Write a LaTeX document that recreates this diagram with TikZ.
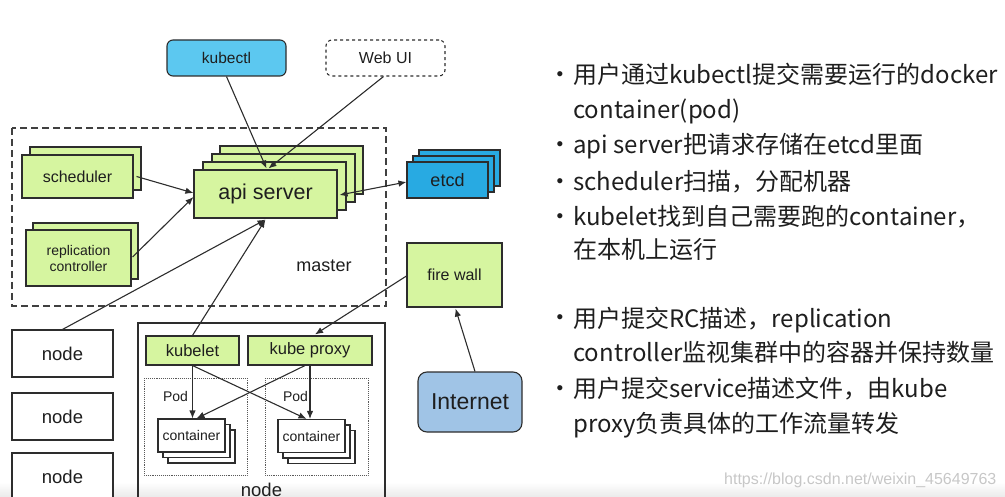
\documentclass[tikz,border=0pt]{standalone}
\usepackage{fontspec}
\setmainfont{Liberation Sans}
\newfontfamily\cjk{Noto Sans CJK SC}
\usetikzlibrary{arrows.meta,shadows,calc}
\definecolor{kgreen}{RGB}{214,245,160}
\definecolor{kcyan}{RGB}{92,200,240}
\definecolor{kblue}{RGB}{40,170,226}
\definecolor{knet}{RGB}{160,196,230}
\definecolor{kline}{RGB}{45,45,45}
\definecolor{ktext}{RGB}{30,30,30}
\begin{document}
\begin{tikzpicture}[x=1pt,y=-1pt,
  box/.style={draw=kline, line width=1.1pt, inner sep=0pt, align=center, text=ktext},
  gbox/.style={box, fill=kgreen},
  arr/.style={draw=kline, line width=1.1pt, -{Latex[length=8pt,width=6.5pt]}},
  barr/.style={draw=kline, line width=1.1pt, {Latex[length=8pt,width=6.5pt]}-{Latex[length=8pt,width=6.5pt]}},
  podbox/.style={draw=black!65, line width=0.9pt, densely dotted},
  lbl/.style={inner sep=0pt, text=ktext},
  txt/.style={anchor=base west, inner sep=0pt, text=ktext, font=\cjk\fontsize{24}{24}\selectfont},
  bul/.style={anchor=base, inner sep=0pt, text=ktext, font=\fontsize{19}{19}\selectfont}
]
\useasboundingbox (0,0) rectangle (1005,497);
\shade[top color=white, bottom color=black!8] (0,482) rectangle (1005,497);

% top clients
\node[box, fill=kcyan, rounded corners=6pt, minimum width=119pt, minimum height=36pt, font=\fontsize{15.5}{16}\selectfont] (kubectl) at (226.5,58) {kubectl};
\node[box, dashed, rounded corners=6pt, minimum width=119pt, minimum height=36pt, font=\fontsize{16}{16}\selectfont] (webui) at (385.5,58) {Web UI};

% master
\draw[draw=black!75, line width=1.1pt, dash pattern=on 7pt off 4pt] (12,128) rectangle (386,306);
\node[lbl, font=\fontsize{18}{18}\selectfont] (master) at (324,266) {master};

\node[gbox, minimum width=111pt, minimum height=43pt, font=\fontsize{16}{16}\selectfont,
  copy shadow={shadow xshift=8pt, shadow yshift=8pt}] (sched) at (77.5,176.5) {scheduler};
\node[gbox, minimum width=105pt, minimum height=56pt, font=\fontsize{14}{16}\selectfont,
  copy shadow={shadow xshift=7pt, shadow yshift=7pt}] (repl) at (78.5,258) {replication\\controller};
\node[gbox, minimum width=143pt, minimum height=48pt, font=\fontsize{21.5}{22}\selectfont,
  copy shadow={shadow xshift=26pt, shadow yshift=24pt},
  copy shadow={shadow xshift=18pt, shadow yshift=16pt},
  copy shadow={shadow xshift=9pt, shadow yshift=8pt}] (api) at (265.5,194) {api server};
\node[box, fill=kblue, minimum width=81pt, minimum height=36pt, font=\fontsize{18}{18}\selectfont,
  copy shadow={shadow xshift=12pt, shadow yshift=12pt},
  copy shadow={shadow xshift=6pt, shadow yshift=6pt}] (etcd) at (447.5,180) {etcd};

\node[gbox, minimum width=95pt, minimum height=64pt, font=\fontsize{16}{16}\selectfont] (fw) at (454.5,275) {fire wall};
\node[box, fill=knet, rounded corners=9pt, minimum width=104pt, minimum height=60pt, font=\fontsize{23}{23}\selectfont] (net) at (470,402) {Internet};

% nodes
\node[box, fill=white, minimum width=101pt, minimum height=47pt, font=\fontsize{18.5}{18}\selectfont] (n1) at (62.5,353.5) {node};
\node[box, fill=white, minimum width=101pt, minimum height=47pt, font=\fontsize{18.5}{18}\selectfont] (n2) at (62.5,416.5) {node};
\node[box, fill=white, minimum width=101pt, minimum height=47pt, font=\fontsize{18.5}{18}\selectfont] (n3) at (62.5,476.5) {node};

\draw[draw=kline, line width=1.1pt] (138,510) -- (138,323) -- (385,323) -- (385,510);
\node[lbl, font=\fontsize{18.5}{18}\selectfont] (bignode) at (261.5,490) {node};

\node[gbox, minimum width=93pt, minimum height=29pt, font=\fontsize{16.5}{16}\selectfont] (kubelet) at (192.5,350.5) {kubelet};
\node[gbox, minimum width=124pt, minimum height=29pt, font=\fontsize{16.5}{16}\selectfont] (proxy) at (310,350.5) {kube proxy};

\draw[podbox] (144,378) rectangle (247,475);
\draw[podbox] (265,378) rectangle (368,475);
\node[lbl, font=\fontsize{14}{14}\selectfont] (pod1) at (175.5,396) {Pod};
\node[lbl, font=\fontsize{14}{14}\selectfont] (pod2) at (295.5,396) {Pod};

\node[box, fill=white, minimum width=67pt, minimum height=33pt, font=\fontsize{14}{14}\selectfont,
  copy shadow={shadow xshift=10pt, shadow yshift=-11pt},
  copy shadow={shadow xshift=5pt, shadow yshift=-5.5pt}] (c1) at (191.5,435.5) {container};
\node[box, fill=white, minimum width=67pt, minimum height=33pt, font=\fontsize{14}{14}\selectfont,
  copy shadow={shadow xshift=10pt, shadow yshift=-11pt},
  copy shadow={shadow xshift=5pt, shadow yshift=-5.5pt}] (c2) at (311.5,436) {container};

% connectors
\draw[arr] (kubectl.south) -- ($(api.north)+(1,-1)$);
\draw[arr] ($(webui.south)+(-2,0)$) -- ($(api.north)+(3,-1)$);
\draw[arr] ($(sched.east)+(3,0)$) -- ($(api.west)+(0,-1)$);
\draw[arr] ($(repl.east)+(1,-1)$) -- ($(api.west)+(0,3)$);
\draw[barr] ($(api.east)+(2,1)$) -- ($(etcd.west)+(0,2)$);
\draw[arr] (n1.north) -- ($(api.south)+(0,1)$);
\draw[arr] (kubelet.north) -- ($(api.south)+(0,1)$);
\draw[arr] ($(fw.west)+(0,1)$) -- ($(proxy.north)+(5,-1)$);
\draw[arr] ($(net.north)+(5,0)$) -- ($(fw.south)+(1,1)$);
\draw[arr] (kubelet.south) -- (kubelet.south |- c1.north);
\draw[arr] (kubelet.south) -- ($(c2.north)+(-5,0)$);
\draw[arr] (proxy.south) -- (proxy.south |- c2.north);
\draw[arr] ($(proxy.south)+(-5,0)$) -- ($(c1.north)+(5,0)$);

% right text
\node[bul] (b1) at (560,81) {•};
\node[txt] (t1) at (573,84) {用户通过kubectl提交需要运行的docker};
\node[txt] (t2) at (573,119) {container(pod)};
\node[bul] (b3) at (560,151) {•};
\node[txt] (t3) at (573,154) {api server把请求存储在etcd里面};
\node[bul] (b4) at (560,188) {•};
\node[txt] (t4) at (573,191) {scheduler扫描，分配机器};
\node[bul] (b5) at (560,223) {•};
\node[txt] (t5) at (573,226) {kubelet找到自己需要跑的container，};
\node[txt] (t6) at (573,259) {在本机上运行};
\node[bul] (b7) at (560,324) {•};
\node[txt] (t7) at (573,327) {用户提交RC描述，replication};
\node[txt] (t8) at (573,362) {controller监视集群中的容器并保持数量};
\node[bul] (b9) at (560,394) {•};
\node[txt] (t9) at (573,397) {用户提交service描述文件，由kube};
\node[txt] (t10) at (573,432) {proxy负责具体的工作流量转发};

\node[anchor=base west, inner sep=0pt, text=black!22, font=\fontsize{16}{16}\selectfont] (wm) at (724,484) {https://blog.csdn.net/weixin\_45649763};
\end{tikzpicture}
\end{document}
